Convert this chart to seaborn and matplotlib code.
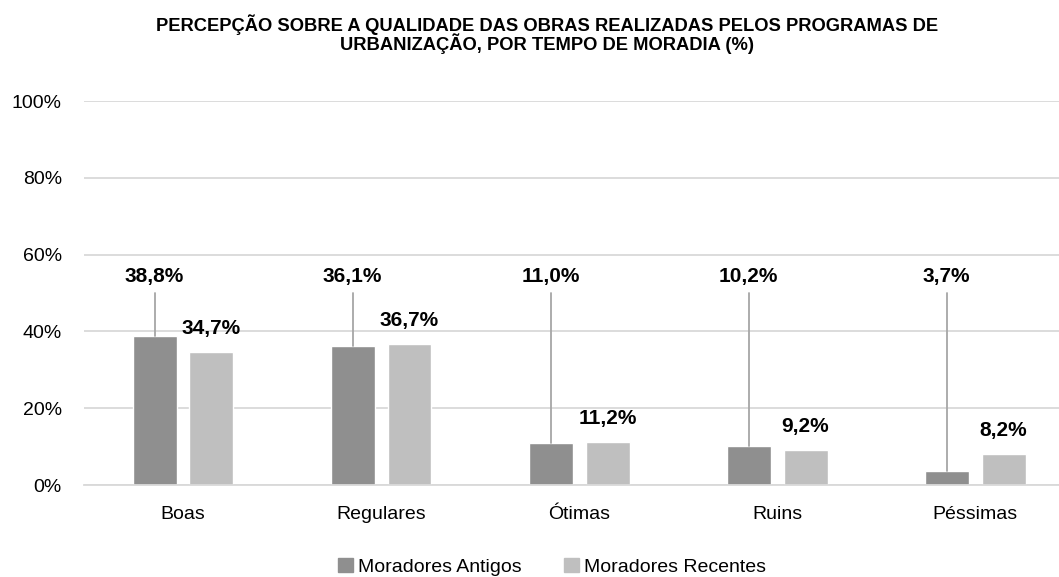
import pandas as pd
import numpy as np
import matplotlib.pyplot as plt
import seaborn as sns

sns.set_theme(style="white")
plt.rcParams["font.family"] = ["Liberation Sans", "DejaVu Sans"]
plt.rcParams["text.color"] = "#000000"

categories = ["Boas", "Regulares", "Ótimas", "Ruins", "Péssimas"]
antigos = [38.8, 36.1, 11.0, 10.2, 3.7]
recentes = [34.7, 36.7, 11.2, 9.2, 8.2]
series = ["Moradores Antigos", "Moradores Recentes"]
colors = ["#8f8f8f", "#bfbfbf"]

df = pd.DataFrame({
    "cat": categories * 2,
    "val": antigos + recentes,
    "grupo": [series[0]] * 5 + [series[1]] * 5,
})

fig = plt.figure(figsize=(10.59, 5.77), dpi=100)
# the original chart is cropped on the right, so the axes run past the figure edge
ax = fig.add_axes([0.0793, 0.1594, 0.935, 0.6655])
sns.barplot(data=df, x="cat", y="val", hue="grupo", palette=colors,
            width=0.575, gap=0.228, ax=ax, saturation=1)

ax.set_ylim(0, 100)
ax.set_xlim(-0.5, 4.5)
ax.set_yticks(range(0, 101, 20))
ax.set_yticklabels([f"{t}%" for t in range(0, 101, 20)], fontsize=14, color="#000000")
ax.tick_params(axis="x", labelsize=14, colors="#000000", length=0, pad=15)
ax.tick_params(axis="y", length=0, pad=16)
ax.yaxis.grid(True, color="#d9d9d9", linewidth=1.3)
ax.set_axisbelow(True)
for s in ["top", "right", "left"]:
    ax.spines[s].set_visible(False)
ax.spines["bottom"].set_color("#d9d9d9")
ax.spines["bottom"].set_linewidth(1.3)
ax.set_xlabel("")
ax.set_ylabel("")

off = 0.1435

# older residents: labels raised with a leader line
for i, v in enumerate(antigos):
    x = i - off
    ax.plot([x, x], [v, 50], color="#a6a6a6", linewidth=1.3, zorder=1)
    ax.text(x, 54.2, f"{v:.1f}%".replace(".", ","), ha="center", va="center",
            fontsize=15, fontweight="bold")

# recent residents: labels just above the bar
for i, v in enumerate(recentes):
    x = i + off
    ax.text(x, v + 6.1, f"{v:.1f}%".replace(".", ","), ha="center", va="center",
            fontsize=15, fontweight="bold")

ax.get_legend().remove()
handles = [plt.Rectangle((0, 0), 1, 1, color=c) for c in colors]
fig.legend(handles, series, loc="center", bbox_to_anchor=(552 / 1059, 0.018),
           ncol=2, frameon=False, fontsize=14, handlelength=0.75, handleheight=0.75,
           handletextpad=0.25, columnspacing=2.2)

fig.text(547 / 1059, 1 - 25 / 577,
         "PERCEPÇÃO SOBRE A QUALIDADE DAS OBRAS REALIZADAS PELOS PROGRAMAS DE",
         ha="center", va="center", fontsize=13.2, fontweight="bold")
fig.text(547 / 1059, 1 - 44 / 577,
         "URBANIZAÇÃO, POR TEMPO DE MORADIA (%)",
         ha="center", va="center", fontsize=13.2, fontweight="bold")

plt.savefig("out.png", dpi=100)
